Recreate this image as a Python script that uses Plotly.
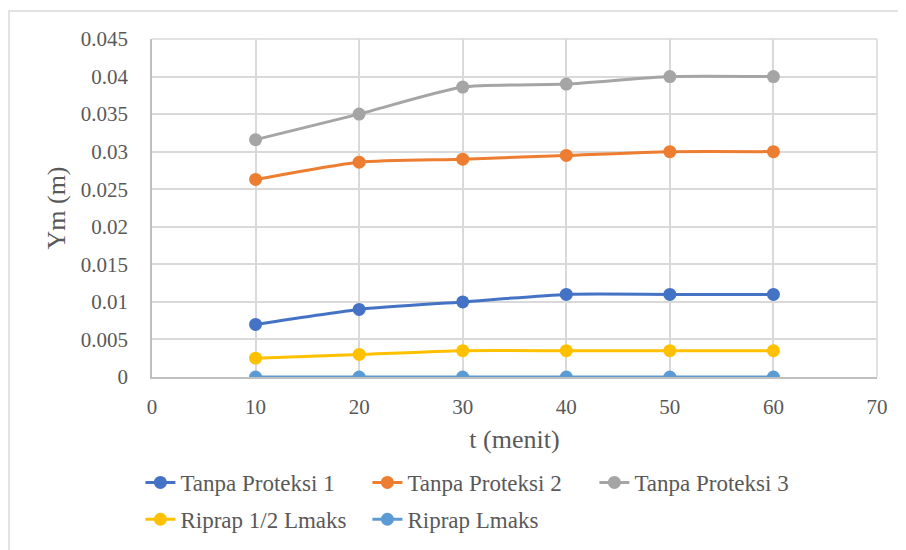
import plotly.graph_objects as go

t = [10, 20, 30, 40, 50, 60]
tanpa1 = [0.007, 0.009, 0.010, 0.011, 0.011, 0.011]
tanpa2 = [0.0263, 0.0286, 0.029, 0.0295, 0.030, 0.030]
tanpa3 = [0.0316, 0.035, 0.0386, 0.039, 0.040, 0.040]
riprap_half = [0.0025, 0.003, 0.0035, 0.0035, 0.0035, 0.0035]
riprap_full = [0, 0, 0, 0, 0, 0]

names = ["Tanpa Proteksi 1", "Tanpa Proteksi 2", "Tanpa Proteksi 3",
         "Riprap 1/2 Lmaks", "Riprap Lmaks"]
series = [tanpa1, tanpa2, tanpa3, riprap_half, riprap_full]
colors = ["#4472C4", "#ED7D31", "#A5A5A5", "#FFC000", "#5B9BD5"]
legends = ["legend", "legend", "legend", "legend2", "legend2"]

FONT = "Liberation Serif"
TXT = "#595959"
GRID = "#D9D9D9"

fig = go.Figure()
for n, s, c, lg in zip(names, series, colors, legends):
    fig.add_trace(go.Scatter(
        x=t, y=s, name=n, mode="lines+markers",
        line=dict(color=c, width=3, shape="spline", smoothing=0.6),
        marker=dict(color=c, size=13),
        legend=lg,
    ))

fig.update_layout(
    width=906, height=550,
    margin=dict(l=144, r=37, t=31, b=181),
    paper_bgcolor="white", plot_bgcolor="white",
    font=dict(family=FONT, color=TXT, size=21),
    showlegend=True,
    legend=dict(orientation="h", x=-0.016, xanchor="left", y=-0.312, yanchor="middle",
                font=dict(size=23, color=TXT, family=FONT),
                entrywidth=182, entrywidthmode="pixels", bgcolor="rgba(0,0,0,0)"),
    legend2=dict(orientation="h", x=-0.016, xanchor="left", y=-0.421, yanchor="middle",
                 font=dict(size=23, color=TXT, family=FONT),
                 entrywidth=182, entrywidthmode="pixels", bgcolor="rgba(0,0,0,0)"),
    shapes=[dict(type="rect", xref="paper", yref="paper",
                 x0=-0.1972, x1=1.2, y0=-1.0, y1=1.0828,
                 line=dict(color=GRID, width=1.5), layer="below")],
)

fig.update_xaxes(
    range=[0, 70], dtick=10, tick0=0,
    showgrid=True, gridcolor=GRID, gridwidth=1.5,
    showline=True, linecolor="#BFBFBF", linewidth=1.5, mirror=False,
    zeroline=False, ticks="", ticklabelstandoff=10,
    tickfont=dict(size=21, color=TXT, family=FONT),
    title=dict(text="t (menit)", font=dict(size=26, color=TXT, family=FONT), standoff=12),
)
fig.update_yaxes(
    range=[0, 0.045], dtick=0.005, tick0=0,
    showgrid=True, gridcolor=GRID, gridwidth=1.5,
    showline=True, linecolor="#BFBFBF", linewidth=1.5,
    zeroline=False, ticks="", ticklabelstandoff=18,
    tickformat="~g",
    tickfont=dict(size=21, color=TXT, family=FONT),
    title=dict(text="Ym (m)", font=dict(size=26, color=TXT, family=FONT), standoff=8),
)
fig.add_shape(type="line", xref="paper", yref="paper", x0=0, x1=1, y0=1, y1=1,
              line=dict(color=GRID, width=1.5), layer="below")
fig.add_shape(type="line", xref="paper", yref="paper", x0=1, x1=1, y0=0, y1=1,
              line=dict(color=GRID, width=1.5), layer="below")

fig.write_html("out.html")
